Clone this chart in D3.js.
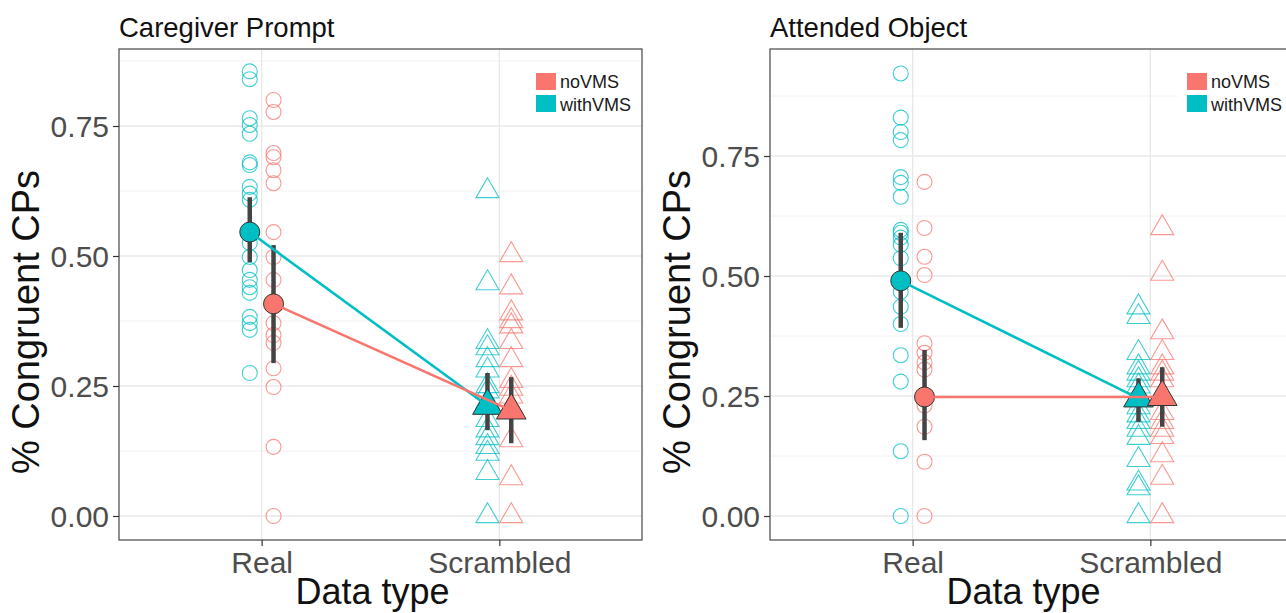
<!DOCTYPE html>
<html>
<head>
<meta charset="utf-8">
<script src="https://cdn.jsdelivr.net/npm/d3@7"></script>
<style>
  body { margin: 0; background: #ffffff; }
  text { font-family: "Liberation Sans", Arial, sans-serif; }
</style>
</head>
<body>
<script>
// categories and groups
var data_types = ["Real", "Scrambled"];
var groups = ["noVMS", "withVMS"];
var group_colors = ["#F8766D", "#00BFC4"];
var y_ticks = [0, 0.25, 0.5, 0.75];
var y_minor = [0.125, 0.375, 0.625, 0.875];

// Caregiver Prompt - raw values per child
var cp_real_with = [0.855, 0.84, 0.765, 0.752, 0.735, 0.68, 0.675, 0.633, 0.62, 0.608, 0.546, 0.525, 0.498, 0.473, 0.454, 0.44, 0.429, 0.383, 0.371, 0.358, 0.275];
var cp_real_no   = [0.80, 0.777, 0.698, 0.69, 0.665, 0.64, 0.546, 0.498, 0.454, 0.41, 0.371, 0.348, 0.333, 0.284, 0.248, 0.133, 0.0];
var cp_scr_with  = [0.625, 0.448, 0.335, 0.323, 0.30, 0.28, 0.25, 0.24, 0.22, 0.21, 0.185, 0.165, 0.15, 0.133, 0.12, 0.083, 0.0];
var cp_scr_no    = [0.502, 0.44, 0.39, 0.375, 0.365, 0.335, 0.30, 0.26, 0.245, 0.23, 0.21, 0.146, 0.073, 0.0];
// means and error bars [mean, low, high] for Real, Scrambled
var cp_mean_with = [[0.546, 0.488, 0.613], [0.212, 0.165, 0.275]];
var cp_mean_no   = [[0.408, 0.294, 0.521], [0.203, 0.14, 0.267]];

// Attended Object - raw values per child
var ao_real_with = [0.922, 0.83, 0.80, 0.783, 0.706, 0.694, 0.665, 0.596, 0.59, 0.58, 0.565, 0.537, 0.49, 0.467, 0.436, 0.40, 0.335, 0.28, 0.135, 0.0];
var ao_real_no   = [0.696, 0.60, 0.54, 0.502, 0.36, 0.34, 0.32, 0.305, 0.248, 0.23, 0.186, 0.113, 0.0];
var ao_scr_with  = [0.435, 0.415, 0.34, 0.31, 0.297, 0.283, 0.27, 0.25, 0.245, 0.227, 0.21, 0.196, 0.18, 0.163, 0.117, 0.068, 0.058, 0.0];
var ao_scr_no    = [0.60, 0.505, 0.383, 0.34, 0.31, 0.297, 0.283, 0.25, 0.215, 0.196, 0.18, 0.165, 0.127, 0.08, 0.0];
var ao_mean_with = [[0.49, 0.392, 0.59], [0.245, 0.196, 0.287]];
var ao_mean_no   = [[0.248, 0.158, 0.346], [0.248, 0.186, 0.31]];

var width = 1286, height = 613;
var svg = d3.select("body").append("svg")
  .attr("width", width)
  .attr("height", height)
  .style("display", "block");
svg.append("rect").attr("width", width).attr("height", height).attr("fill", "#ffffff");

var tick_size = "30px";
var title_size = "37px";

function draw_panel(opts) {
  var g = svg.append("g");
  var left = opts.left, right = opts.right, top = 49, bottom = 540;

  var x = d3.scalePoint().domain(data_types).range([left, right]).padding(0.6);
  var y = d3.scaleLinear().domain([0, 0.75]).range([516, opts.y75]);
  var dodge = x.step() * 0.05; // withVMS left, noVMS right
  var gx = function (type, grp) { return x(type) + (grp == "withVMS" ? -dodge : dodge); };

  var clip_id = "clip" + opts.id;
  g.append("clipPath").attr("id", clip_id)
    .append("rect").attr("x", left).attr("y", top).attr("width", right - left).attr("height", bottom - top);
  var panel = g.append("g").attr("clip-path", "url(#" + clip_id + ")");

  // grid
  panel.selectAll(".minor").data(y_minor).enter().append("line")
    .attr("x1", left).attr("x2", right)
    .attr("y1", d => y(d)).attr("y2", d => y(d))
    .attr("stroke", "#f2f2f2").attr("stroke-width", 1);
  panel.selectAll(".major").data(y_ticks).enter().append("line")
    .attr("x1", left).attr("x2", right)
    .attr("y1", d => y(d)).attr("y2", d => y(d))
    .attr("stroke", "#e8e8e8").attr("stroke-width", 1.3);
  panel.selectAll(".vmajor").data(data_types).enter().append("line")
    .attr("x1", d => x(d)).attr("x2", d => x(d))
    .attr("y1", top).attr("y2", bottom)
    .attr("stroke", "#e8e8e8").attr("stroke-width", 1.3);

  // raw points: circles for Real, open triangles for Scrambled
  var tri_small = d3.symbol().type(d3.symbolTriangle).size(230);
  var raw = [
    ["Real", "withVMS", opts.real_with], ["Real", "noVMS", opts.real_no],
    ["Scrambled", "withVMS", opts.scr_with], ["Scrambled", "noVMS", opts.scr_no]
  ];
  raw.forEach(function (r) {
    var col = group_colors[groups.indexOf(r[1])];
    if (r[0] == "Real") {
      panel.append("g").selectAll("circle").data(r[2]).enter().append("circle")
        .attr("cx", gx(r[0], r[1])).attr("cy", d => y(d)).attr("r", 7.5)
        .attr("fill", "none").attr("stroke", col).attr("stroke-width", 1.1).attr("opacity", 0.75);
    } else {
      panel.append("g").selectAll("path").data(r[2]).enter().append("path")
        .attr("d", tri_small)
        .attr("transform", d => "translate(" + gx(r[0], r[1]) + "," + y(d) + ")")
        .attr("fill", "none").attr("stroke", col).attr("stroke-width", 1.1).attr("opacity", 0.75);
    }
  });

  // error bars
  var means = [["withVMS", opts.mean_with], ["noVMS", opts.mean_no]];
  means.forEach(function (m) {
    panel.append("g").selectAll("line").data(m[1]).enter().append("line")
      .attr("x1", (d, i) => gx(data_types[i], m[0])).attr("x2", (d, i) => gx(data_types[i], m[0]))
      .attr("y1", d => y(d[1])).attr("y2", d => y(d[2]))
      .attr("stroke", "#444444").attr("stroke-width", 4.5);
  });

  // mean markers
  var tri_big = d3.symbol().type(d3.symbolTriangle).size(380);
  means.forEach(function (m) {
    var col = group_colors[groups.indexOf(m[0])];
    panel.append("circle")
      .attr("cx", gx("Real", m[0])).attr("cy", y(m[1][0][0])).attr("r", 10)
      .attr("fill", col).attr("stroke", "#333333").attr("stroke-width", 1);
    panel.append("path").attr("d", tri_big)
      .attr("transform", "translate(" + gx("Scrambled", m[0]) + "," + y(m[1][1][0]) + ")")
      .attr("fill", col).attr("stroke", "#333333").attr("stroke-width", 1);
  });

  // lines connecting means
  var line = d3.line().x(d => d[0]).y(d => y(d[1]));
  means.forEach(function (m) {
    var col = group_colors[groups.indexOf(m[0])];
    panel.append("path")
      .datum(data_types.map((t, i) => [gx(t, m[0]), m[1][i][0]]))
      .attr("d", line).attr("fill", "none").attr("stroke", col).attr("stroke-width", 2.6);
  });

  // legend (inside panel, top right)
  var lg = panel.append("g");
  lg.append("rect").attr("x", opts.legend_x - 9).attr("y", 62).attr("width", 130).attr("height", 58).attr("fill", "#ffffff");
  groups.forEach(function (grp, i) {
    lg.append("rect").attr("x", opts.legend_x).attr("y", 73 + i * 22).attr("width", 20).attr("height", 17)
      .attr("fill", group_colors[i]);
    lg.append("text").text(grp).attr("x", opts.legend_x + 24).attr("y", 88 + i * 23)
      .style("font-size", "18px").style("fill", "#1a1a1a");
  });

  // border
  g.append("rect").attr("x", left).attr("y", top).attr("width", right - left).attr("height", bottom - top)
    .attr("fill", "none").attr("stroke", "#555555").attr("stroke-width", 1.3);

  // y axis
  var ya = g.append("g").attr("transform", "translate(" + left + ",0)")
    .call(d3.axisLeft(y).tickValues(y_ticks).tickFormat(d3.format(".2f")).tickSize(6).tickPadding(4));
  ya.select(".domain").remove();
  ya.selectAll("line").attr("stroke", "#333333").attr("stroke-width", 1.2);
  ya.selectAll("text").style("font-size", tick_size).style("fill", "#4d4d4d")
    .style("font-family", "Liberation Sans, Arial, sans-serif").attr("dy", "0.36em");

  // x axis
  var xa = g.append("g").attr("transform", "translate(0," + bottom + ")")
    .call(d3.axisBottom(x).tickSize(6).tickPadding(4));
  xa.select(".domain").remove();
  xa.selectAll("line").attr("stroke", "#333333").attr("stroke-width", 1.2);
  xa.selectAll("text").style("font-size", tick_size).style("fill", "#4d4d4d")
    .style("font-family", "Liberation Sans, Arial, sans-serif").attr("dy", "0.75em");

  // titles
  g.append("text").text(opts.title).attr("x", left).attr("y", 37)
    .style("font-size", "27.5px").style("fill", "#111111");
  g.append("text").text("Data type").attr("x", (x("Real") + x("Scrambled")) / 2 - 8).attr("y", 604)
    .attr("text-anchor", "middle").style("font-size", "36px").style("fill", "#111111");
  g.append("text").text("% Congruent CPs")
    .attr("transform", "translate(" + (left - 80) + ",322) rotate(-90)")
    .attr("text-anchor", "middle").style("font-size", "38px").style("fill", "#111111");
}

draw_panel({
  id: 1, left: 119, right: 642, y75: 126, title: "Caregiver Prompt", legend_x: 536,
  real_with: cp_real_with, real_no: cp_real_no, scr_with: cp_scr_with, scr_no: cp_scr_no,
  mean_with: cp_mean_with, mean_no: cp_mean_no
});
draw_panel({
  id: 2, left: 770, right: 1293, y75: 156, title: "Attended Object", legend_x: 1187,
  real_with: ao_real_with, real_no: ao_real_no, scr_with: ao_scr_with, scr_no: ao_scr_no,
  mean_with: ao_mean_with, mean_no: ao_mean_no
});
</script>
</body>
</html>
